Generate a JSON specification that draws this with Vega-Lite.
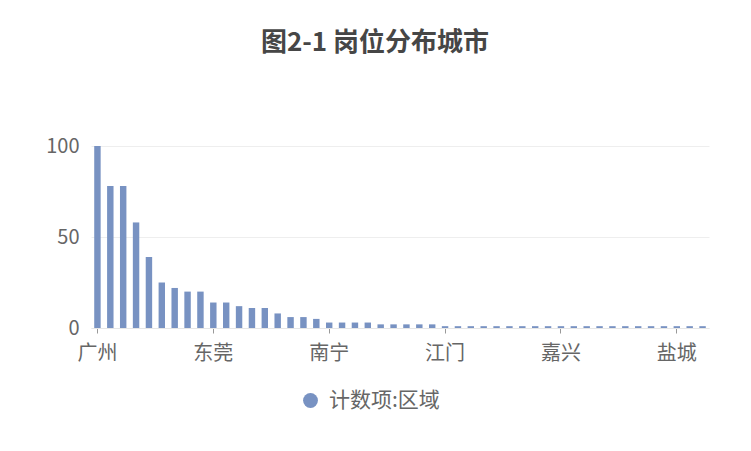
{
  "$schema": "https://vega.github.io/schema/vega-lite/v6.json",
  "width": 618,
  "height": 182,
  "autosize": {"type": "none"},
  "padding": {"left": 91, "top": 146, "right": 42, "bottom": 123},
  "background": "white",
  "title": {
    "text": "图2-1 岗位分布城市",
    "font": "Noto Sans CJK SC",
    "fontSize": 26,
    "fontWeight": "bold",
    "color": "#464646",
    "anchor": "middle",
    "baseline": "bottom",
    "dx": -25,
    "offset": 54
  },
  "config": {
    "view": {"stroke": null},
    "font": "Noto Sans CJK SC"
  },
  "data": {
    "values": [
      {"city": "广州", "count": 100},
      {"city": "深圳", "count": 78},
      {"city": "上海", "count": 78},
      {"city": "北京", "count": 58},
      {"city": "杭州", "count": 39},
      {"city": "佛山", "count": 25},
      {"city": "成都", "count": 22},
      {"city": "武汉", "count": 20},
      {"city": "长沙", "count": 20},
      {"city": "东莞", "count": 14},
      {"city": "珠海", "count": 14},
      {"city": "南京", "count": 12},
      {"city": "苏州", "count": 11},
      {"city": "重庆", "count": 11},
      {"city": "厦门", "count": 8},
      {"city": "郑州", "count": 6},
      {"city": "西安", "count": 6},
      {"city": "天津", "count": 5},
      {"city": "南宁", "count": 3},
      {"city": "福州", "count": 3},
      {"city": "惠州", "count": 3},
      {"city": "合肥", "count": 3},
      {"city": "青岛", "count": 2},
      {"city": "济南", "count": 2},
      {"city": "昆明", "count": 2},
      {"city": "宁波", "count": 2},
      {"city": "无锡", "count": 2},
      {"city": "江门", "count": 1},
      {"city": "贵阳", "count": 1},
      {"city": "中山", "count": 1},
      {"city": "海口", "count": 1},
      {"city": "南昌", "count": 1},
      {"city": "石家庄", "count": 1},
      {"city": "沈阳", "count": 1},
      {"city": "大连", "count": 1},
      {"city": "温州", "count": 1},
      {"city": "嘉兴", "count": 1},
      {"city": "常州", "count": 1},
      {"city": "汕头", "count": 1},
      {"city": "湛江", "count": 1},
      {"city": "肇庆", "count": 1},
      {"city": "清远", "count": 1},
      {"city": "泉州", "count": 1},
      {"city": "烟台", "count": 1},
      {"city": "徐州", "count": 1},
      {"city": "盐城", "count": 1},
      {"city": "南通", "count": 1},
      {"city": "绍兴", "count": 1}
    ]
  },
  "mark": {"type": "bar"},
  "encoding": {
    "x": {
      "field": "city",
      "type": "nominal",
      "sort": null,
      "scale": {"paddingInner": 0.5, "paddingOuter": 0.25},
      "axis": {
        "title": null,
        "values": ["广州", "东莞", "南宁", "江门", "嘉兴", "盐城"],
        "labelAngle": 0,
        "labelFontSize": 20,
        "labelColor": "#666666",
        "labelPadding": 10,
        "tickSize": 5,
        "tickColor": "#999999",
        "domainColor": "#e6e6e6",
        "grid": false
      }
    },
    "y": {
      "field": "count",
      "type": "quantitative",
      "scale": {"domain": [0, 100]},
      "axis": {
        "title": null,
        "values": [0, 50, 100],
        "domain": false,
        "ticks": false,
        "labelFontSize": 20,
        "labelColor": "#666666",
        "labelPadding": 12,
        "gridColor": "#eeeeee"
      }
    },
    "color": {
      "datum": "计数项:区域",
      "type": "nominal",
      "scale": {"range": ["#7892c2"]},
      "legend": {
        "title": null,
        "orient": "none",
        "legendX": 209,
        "legendY": 244,
        "symbolType": "circle",
        "symbolSize": 220,
        "labelFontSize": 21,
        "labelColor": "#666666",
        "labelOffset": 8
      }
    }
  }
}
